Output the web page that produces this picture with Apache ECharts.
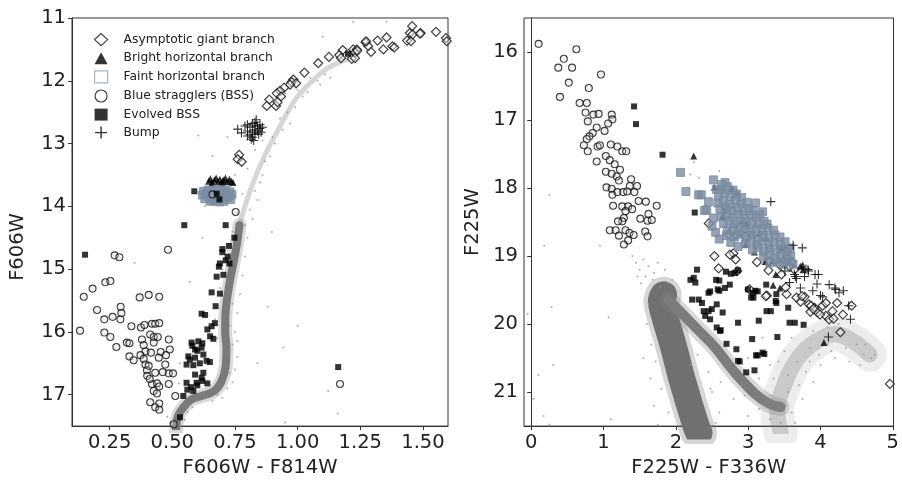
<!DOCTYPE html>
<html>
<head>
<meta charset="utf-8">
<title>CMD</title>
<script src="https://cdn.jsdelivr.net/npm/echarts@6.0.0/dist/echarts.min.js"></script>
<style>
  html, body { margin: 0; padding: 0; background: #fff; }
  #chart { width: 902px; height: 483px; }
</style>
</head>
<body>
<div id="chart"></div>
<script>
// tick labels
const leftXTicks = [0.25, 0.5, 0.75, 1.0, 1.25, 1.5]
const leftYTicks = [11, 12, 13, 14, 15, 16, 17]
const rightXTicks = [0, 1, 2, 3, 4, 5]
const rightYTicks = [16, 17, 18, 19, 20, 21]

const names = ['Asymptotic giant branch', 'Bright horizontal branch', 'Faint horizontal branch',
  'Blue stragglers (BSS)', 'Evolved BSS', 'Bump']

// ---------- left panel: F606W - F814W vs F606W ----------
const agbLeft = [[1.457, 11.13], [1.448, 11.24], [1.491, 11.24], [1.437, 11.36], [1.452, 11.37], [1.552, 11.22],
  [1.592, 11.32], [1.595, 11.37], [1.355, 11.31], [1.319, 11.36], [1.271, 11.39], [1.282, 11.45], [1.293, 11.54],
  [1.342, 11.50], [1.378, 11.45], [1.386, 11.47], [1.180, 11.51], [1.222, 11.50], [1.236, 11.50], [1.229, 11.55],
  [1.238, 11.52], [1.216, 11.65], [1.229, 11.64], [1.166, 11.59], [1.173, 11.64], [1.125, 11.62], [1.082, 11.72],
  [1.027, 11.87], [0.983, 11.98], [0.976, 12.02], [0.994, 12.04], [0.970, 12.06], [0.946, 12.11], [0.930, 12.16],
  [0.917, 12.20], [0.934, 12.25], [0.887, 12.30], [0.877, 12.40], [0.914, 12.40], [0.920, 12.34], [0.767, 13.18],
  [0.761, 13.25], [0.777, 13.29], [1.273, 11.37], [1.459, 11.26], [1.488, 11.25]]
const bhbLeft = [[0.645, 13.60], [0.652, 13.56], [0.660, 13.62], [0.668, 13.58], [0.675, 13.55], [0.683, 13.61],
  [0.690, 13.57], [0.698, 13.63], [0.705, 13.58], [0.712, 13.55], [0.720, 13.61], [0.728, 13.57], [0.736, 13.60],
  [0.742, 13.62], [0.657, 13.64], [0.700, 13.60]]
const fhbLeft = [[0.625, 13.76], [0.643, 13.74], [0.661, 13.75], [0.679, 13.73], [0.697, 13.76], [0.715, 13.74],
  [0.730, 13.77], [0.620, 13.82], [0.638, 13.80], [0.656, 13.83], [0.674, 13.81], [0.692, 13.82], [0.710, 13.80],
  [0.728, 13.83], [0.738, 13.81], [0.630, 13.88], [0.648, 13.86], [0.666, 13.89], [0.684, 13.87], [0.702, 13.88],
  [0.720, 13.86], [0.733, 13.89], [0.652, 13.92], [0.670, 13.91], [0.688, 13.93], [0.706, 13.92]]
const bssLeft = [[0.270, 14.78], [0.289, 14.81], [0.483, 14.69], [0.233, 15.21], [0.253, 15.19], [0.182, 15.31],
  [0.147, 15.44], [0.370, 15.45], [0.406, 15.41], [0.448, 15.44], [0.200, 15.65], [0.229, 15.80], [0.262, 15.76],
  [0.294, 15.60], [0.297, 15.70], [0.293, 15.80], [0.337, 15.91], [0.375, 15.93], [0.389, 15.89], [0.419, 15.87],
  [0.432, 15.87], [0.448, 15.86], [0.132, 15.98], [0.229, 16.01], [0.253, 16.08], [0.277, 16.24], [0.319, 16.17],
  [0.329, 16.18], [0.379, 16.12], [0.386, 16.21], [0.412, 16.04], [0.426, 16.08], [0.442, 16.08], [0.426, 16.17],
  [0.486, 16.12], [0.393, 16.31], [0.329, 16.39], [0.346, 16.45], [0.373, 16.37], [0.386, 16.43], [0.415, 16.33],
  [0.454, 16.32], [0.475, 16.37], [0.446, 16.41], [0.490, 16.28], [0.393, 16.52], [0.399, 16.61], [0.406, 16.54],
  [0.432, 16.65], [0.472, 16.52], [0.462, 16.64], [0.486, 16.66], [0.503, 16.66], [0.419, 16.83], [0.439, 16.82],
  [0.448, 16.87], [0.426, 16.94], [0.439, 16.98], [0.486, 16.83], [0.412, 17.12], [0.448, 17.14], [0.432, 17.20],
  [0.448, 17.24], [0.512, 17.02], [0.506, 17.47], [1.169, 16.83], [0.753, 14.09], [0.661, 13.81], [0.400, 16.70],
  [0.410, 16.75]]
const ebssLeft = [[0.588, 13.76], [0.688, 13.89], [0.677, 13.80], [0.548, 14.30], [0.713, 14.30], [0.748, 14.50],
  [0.726, 14.63], [0.700, 14.68], [0.700, 14.73], [0.721, 14.80], [0.713, 14.86], [0.728, 14.91], [0.690, 14.91],
  [0.686, 14.96], [0.704, 15.09], [0.677, 15.12], [0.657, 15.37], [0.690, 15.39], [0.673, 15.59], [0.617, 15.71],
  [0.631, 15.73], [0.670, 15.86], [0.657, 15.91], [0.640, 15.96], [0.651, 16.07], [0.664, 16.11], [0.577, 16.17],
  [0.604, 16.15], [0.617, 16.25], [0.591, 16.28], [0.624, 16.36], [0.564, 16.39], [0.591, 16.41], [0.637, 16.46],
  [0.557, 16.52], [0.584, 16.53], [0.624, 16.65], [0.591, 16.68], [0.557, 16.81], [0.575, 16.88], [0.597, 16.81],
  [0.617, 16.73], [0.584, 16.94], [0.544, 17.02], [0.531, 17.36], [0.152, 14.77], [1.162, 16.56], [1.201, 11.57],
  [0.600, 16.30], [0.570, 16.44], [0.610, 16.50], [0.650, 16.48], [0.580, 16.22], [0.620, 16.18], [0.600, 16.85],
  [0.620, 16.78], [0.560, 16.92], [0.640, 16.82]]
const bumpLeft = [[0.761, 12.77], [0.776, 12.83], [0.800, 12.70], [0.810, 12.74], [0.820, 12.68], [0.830, 12.66],
  [0.835, 12.62], [0.840, 12.72], [0.850, 12.76], [0.830, 12.78], [0.820, 12.82], [0.810, 12.86], [0.820, 12.90],
  [0.830, 12.85], [0.840, 12.80], [0.850, 12.70], [0.860, 12.74], [0.800, 12.80], [0.815, 12.93], [0.825, 12.95],
  [0.845, 12.85], [0.855, 12.82], [0.790, 12.72], [0.830, 12.72], [0.800, 12.88]]
// dense RGB/SGB ridge and the sparse upper giant branch
const ridgeLeftLow = [[0.515, 17.60], [0.522, 17.35], [0.545, 17.20], [0.575, 17.08], [0.617, 17.02], [0.664, 16.95],
  [0.695, 16.80], [0.713, 16.55], [0.716, 16.25], [0.711, 15.99], [0.712, 15.73], [0.722, 15.38], [0.737, 15.04],
  [0.755, 14.67], [0.768, 14.30]]
const ridgeLeftHigh = [[0.768, 14.30], [0.790, 14.00], [0.815, 13.70], [0.845, 13.40], [0.880, 13.10], [0.920, 12.80],
  [0.960, 12.50], [1.000, 12.25], [1.060, 12.00], [1.120, 11.80], [1.200, 11.65]]
const fieldLeft = [[0.52, 17.30], [0.55, 17.40], [0.49, 17.45], [0.58, 17.20], [0.60, 17.10], [0.63, 17.06],
  [0.68, 17.00], [0.72, 16.90], [0.74, 16.80], [0.75, 16.60], [0.76, 16.40], [0.74, 16.20], [0.75, 16.00],
  [0.68, 16.10], [0.67, 15.80], [0.76, 15.70], [0.77, 15.40], [0.69, 15.30], [0.70, 15.00], [0.78, 15.10],
  [0.79, 14.80], [0.72, 14.70], [0.74, 14.40], [0.80, 14.50], [0.82, 14.20], [0.76, 14.10], [0.78, 13.80],
  [0.84, 13.90], [0.86, 13.50], [0.80, 13.40], [0.83, 13.10], [0.89, 13.20], [0.90, 12.90], [0.86, 12.95],
  [0.93, 12.60], [0.96, 12.50], [0.95, 12.20], [1.00, 12.15], [1.05, 11.95], [1.08, 12.00], [1.11, 11.90],
  [1.02, 12.25], [0.897, 14.41], [0.943, 16.25], [1.122, 16.94], [0.951, 17.44], [1.222, 11.06], [1.355, 11.06],
  [0.604, 12.87], [0.526, 16.82], [1.00, 15.90], [0.88, 15.60], [0.84, 16.50], [0.62, 14.50], [0.57, 15.20],
  [0.45, 16.90], [0.40, 16.30], [1.16, 17.30], [0.66, 13.20], [0.72, 12.90], [0.75, 13.50], [0.63, 14.00],
  [0.53, 16.50], [0.35, 14.90], [1.10, 11.30], [0.81, 14.05], [0.83, 13.75], [0.85, 13.62], [0.87, 13.28],
  [0.91, 13.00], [0.94, 12.78], [0.97, 12.68], [0.99, 12.42], [1.04, 12.18], [1.09, 12.06], [1.13, 11.95],
  [0.79, 14.30], [0.74, 15.55], [0.73, 15.90], [0.76, 16.15], [0.73, 16.65], [0.70, 17.05], [0.66, 17.10],
  [0.56, 17.28], [0.48, 17.35]]

// ---------- right panel: F225W - F336W vs F225W ----------
const agbRight = [[2.456, 18.52], [2.833, 18.69], [2.963, 18.71], [2.533, 19.00], [2.592, 19.18], [2.796, 18.96],
  [2.827, 19.05], [2.850, 19.22], [3.020, 19.49], [3.122, 19.09], [3.258, 19.58], [3.280, 19.21], [3.290, 19.08],
  [3.460, 19.27], [3.576, 19.16], [3.598, 19.08], [3.531, 19.56], [3.520, 19.46], [3.725, 19.67], [3.780, 19.60],
  [3.840, 19.71], [3.861, 19.82], [3.916, 19.76], [3.960, 19.83], [4.030, 19.73], [4.075, 19.69], [4.075, 19.88],
  [4.166, 19.81], [4.230, 19.69], [4.310, 19.86], [4.275, 20.12], [4.430, 19.73], [4.960, 20.88], [4.120, 19.93],
  [3.870, 19.73], [3.640, 19.20], [3.440, 19.13], [4.180, 19.92], [3.667, 19.61], [3.245, 19.59], [3.744, 19.59],
  [3.903, 19.78], [3.994, 19.86], [2.747, 18.98], [2.732, 18.68]]
const bhbRight = [[2.247, 17.53], [2.533, 17.99], [2.778, 18.01], [2.846, 18.07], [2.664, 18.32], [2.646, 18.42],
  [2.918, 18.48], [2.973, 18.52], [3.154, 18.66], [3.245, 18.73], [2.964, 18.83], [3.449, 18.88], [3.503, 18.86],
  [3.236, 19.08], [3.336, 19.07], [3.417, 19.04], [3.721, 19.15], [3.087, 18.94], [3.509, 19.05], [3.753, 19.13],
  [3.758, 19.20], [3.381, 19.27], [3.345, 19.43], [3.440, 19.47], [4.048, 20.27], [3.495, 19.02]]
const fhbRight = [[2.63, 18.02], [2.71, 17.98], [2.79, 18.03], [2.59, 18.12], [2.67, 18.08], [2.75, 18.13],
  [2.84, 18.09], [2.91, 18.14], [2.58, 18.22], [2.66, 18.19], [2.74, 18.24], [2.82, 18.18], [2.90, 18.23],
  [2.98, 18.21], [2.61, 18.31], [2.69, 18.28], [2.77, 18.33], [2.85, 18.29], [2.93, 18.34], [3.01, 18.30],
  [3.07, 18.33], [2.63, 18.42], [2.71, 18.38], [2.79, 18.43], [2.87, 18.39], [2.95, 18.44], [3.03, 18.40],
  [3.11, 18.43], [3.16, 18.39], [2.66, 18.52], [2.74, 18.48], [2.82, 18.53], [2.90, 18.49], [2.98, 18.54],
  [3.06, 18.50], [3.14, 18.53], [3.22, 18.49], [3.26, 18.53], [2.71, 18.62], [2.79, 18.58], [2.87, 18.63],
  [2.95, 18.59], [3.03, 18.64], [3.11, 18.60], [3.19, 18.63], [3.27, 18.59], [3.35, 18.62], [2.81, 18.72],
  [2.89, 18.68], [2.97, 18.73], [3.05, 18.69], [3.13, 18.74], [3.21, 18.70], [3.29, 18.73], [3.37, 18.69],
  [3.44, 18.72], [2.96, 18.82], [3.04, 18.78], [3.12, 18.83], [3.20, 18.79], [3.28, 18.84], [3.36, 18.80],
  [3.44, 18.83], [3.51, 18.79], [3.06, 18.91], [3.14, 18.88], [3.22, 18.93], [3.30, 18.89], [3.38, 18.94],
  [3.46, 18.90], [3.54, 18.93], [3.58, 18.88], [3.21, 19.01], [3.29, 18.98], [3.37, 19.03], [3.45, 18.99],
  [3.53, 19.04], [3.59, 19.00], [3.41, 19.09], [3.49, 19.12], [3.55, 19.08], [2.065, 17.77], [2.139, 18.05],
  [2.52, 17.88], [2.637, 17.95], [2.397, 18.33], [2.351, 18.10], [2.50, 18.56], [2.315, 18.10], [2.428, 18.32],
  [2.519, 18.44], [2.45, 18.20], [2.55, 18.65], [2.60, 18.75], [3.62, 19.12], [3.30, 19.10], [2.70, 18.70],
  [2.76, 18.80], [2.86, 18.86], [2.68, 17.92], [2.56, 18.02], [3.10, 18.22], [3.20, 18.35]]
const bssRight = [[0.102, 15.88], [0.624, 15.96], [0.451, 16.10], [0.374, 16.23], [0.565, 16.23], [0.964, 16.33],
  [0.519, 16.45], [0.796, 16.53], [0.397, 16.66], [0.669, 16.75], [0.769, 16.75], [0.751, 16.89], [0.859, 16.92],
  [0.932, 16.91], [1.113, 16.92], [1.122, 16.99], [0.782, 17.02], [1.064, 17.05], [0.905, 17.11], [0.850, 17.19],
  [1.014, 17.16], [0.805, 17.24], [0.769, 17.28], [0.728, 17.37], [0.918, 17.39], [0.950, 17.37], [0.782, 17.46],
  [1.100, 17.36], [1.191, 17.39], [1.259, 17.46], [1.313, 17.46], [0.905, 17.61], [1.032, 17.53], [1.086, 17.59],
  [1.154, 17.65], [1.227, 17.73], [1.032, 17.76], [1.113, 17.79], [1.182, 17.83], [1.213, 17.89], [1.381, 17.87],
  [1.463, 17.97], [1.363, 17.97], [1.041, 17.99], [1.113, 18.01], [1.122, 18.10], [1.191, 18.06], [1.272, 18.06],
  [1.327, 18.05], [1.426, 18.06], [1.485, 18.19], [1.585, 18.20], [1.735, 18.26], [1.132, 18.26], [1.259, 18.27],
  [1.340, 18.27], [1.395, 18.31], [1.304, 18.34], [1.621, 18.38], [1.281, 18.44], [1.259, 18.49], [1.200, 18.49],
  [1.508, 18.45], [1.608, 18.48], [1.667, 18.47], [1.086, 18.62], [1.168, 18.62], [1.213, 18.70], [1.304, 18.62],
  [1.358, 18.66], [1.417, 18.69], [1.340, 18.77], [1.281, 18.83], [1.576, 18.64], [1.608, 18.71]]
const ebssRight = [[1.422, 16.80], [1.449, 17.06], [1.816, 17.51], [2.261, 18.36], [2.202, 19.35], [2.248, 19.32],
  [2.293, 19.20], [2.270, 19.39], [2.225, 19.64], [2.316, 19.64], [2.361, 19.69], [2.452, 19.81], [2.406, 19.88],
  [2.474, 19.93], [2.565, 20.05], [2.610, 20.10], [2.701, 20.29], [2.837, 20.37], [2.860, 20.54], [2.973, 20.71],
  [3.087, 20.68], [3.132, 20.46], [3.200, 20.42], [3.223, 20.44], [3.404, 20.19], [3.572, 19.98], [3.645, 19.98],
  [3.767, 20.01], [2.860, 19.98], [3.146, 19.95], [3.254, 19.81], [3.313, 19.81], [3.381, 19.66], [3.554, 19.76],
  [2.579, 19.49], [2.678, 19.47], [2.746, 19.42], [2.815, 19.25], [2.996, 19.49], [3.073, 19.61], [3.064, 19.54],
  [2.860, 19.21], [2.556, 19.35], [2.474, 19.52], [2.601, 19.36], [2.692, 19.23], [2.760, 19.26], [2.601, 19.51],
  [2.452, 19.54], [2.565, 19.71], [2.497, 19.78], [2.384, 19.81], [2.647, 19.83], [2.620, 20.09], [3.132, 19.52],
  [3.041, 19.61], [3.390, 19.56], [3.055, 20.22], [3.109, 20.46], [2.883, 20.55], [3.250, 19.42], [3.390, 19.69],
  [3.100, 19.51]]
const bumpRight = [[3.313, 18.20], [3.622, 18.84], [3.748, 18.88], [3.826, 19.20], [3.925, 19.27], [3.952, 19.41],
  [3.894, 19.51], [4.120, 19.42], [4.210, 19.49], [4.316, 19.51], [4.390, 19.73], [4.415, 19.93], [4.110, 20.19],
  [3.667, 19.33], [3.640, 19.27], [3.780, 19.30], [4.000, 19.58], [4.030, 19.60], [4.256, 19.54], [3.508, 19.22],
  [3.835, 19.22], [3.971, 19.27], [4.198, 19.47], [3.799, 19.19], [3.722, 19.47], [3.653, 19.30], [3.572, 19.39]]
// main sequence, subgiant branch, red giant branch ridges
const msRight = [[2.32, 21.60], [2.28, 21.50], [2.09, 20.83], [1.97, 20.34], [1.84, 19.86], [1.80, 19.66],
  [1.83, 19.57]]
const sgbRight = [[1.90, 19.64], [2.10, 19.86], [2.32, 20.10], [2.54, 20.34], [2.79, 20.68], [3.09, 21.02],
  [3.29, 21.17], [3.45, 21.22]]
const rgbRight = [[3.45, 21.60], [3.40, 21.25], [3.48, 20.95], [3.60, 20.65], [3.75, 20.42], [3.95, 20.25],
  [4.20, 20.15], [4.45, 20.25], [4.68, 20.45]]
const fieldRight = [[0.25, 18.10], [0.18, 18.85], [0.95, 18.85], [-0.05, 19.85], [0.28, 19.75], [0.30, 20.60],
  [0.10, 20.75], [0.17, 21.35], [0.03, 21.10], [1.07, 19.90], [1.10, 21.40], [0.25, 21.48], [2.20, 17.80],
  [2.25, 17.62], [2.60, 17.75], [2.32, 17.85], [1.40, 19.00], [1.45, 19.10], [1.50, 19.20], [1.55, 19.05],
  [1.62, 19.15], [1.70, 19.25], [1.75, 19.10], [1.68, 19.35], [1.58, 19.30], [1.85, 19.20], [1.90, 19.40],
  [1.78, 19.45], [1.52, 19.40], [1.47, 19.30], [1.95, 19.35], [1.60, 20.00], [1.55, 20.50], [1.65, 20.80],
  [1.70, 21.20], [1.75, 21.48], [2.50, 21.00], [2.60, 21.30], [2.45, 20.70], [2.20, 20.60], [3.30, 20.60],
  [3.50, 20.40], [3.60, 20.20], [3.75, 20.05], [3.90, 20.10], [4.10, 20.05], [4.30, 20.15], [4.50, 20.30],
  [4.60, 20.45], [4.70, 20.50], [4.75, 20.45], [4.55, 20.60], [4.40, 20.55], [4.20, 20.50], [4.00, 20.60],
  [3.80, 20.70], [3.70, 20.90], [3.55, 21.00], [3.60, 21.30], [3.75, 21.10], [3.45, 21.45], [3.65, 21.45],
  [3.90, 20.85], [4.10, 20.30], [3.20, 20.20], [3.00, 20.50], [3.15, 20.80], [2.90, 20.90], [2.80, 21.10],
  [3.00, 21.35], [3.30, 21.40], [3.35, 20.80], [3.42, 20.55], [3.55, 20.75], [3.68, 20.55], [3.85, 20.35],
  [3.98, 20.45], [4.15, 20.40], [4.35, 20.35], [4.62, 20.30], [4.25, 20.00], [3.85, 20.55], [3.52, 21.20],
  [3.30, 21.05], [3.15, 21.25], [2.95, 21.05], [1.62, 19.70], [1.66, 20.30], [1.72, 20.55], [1.80, 20.95],
  [1.90, 21.30], [2.55, 21.45], [2.48, 20.95], [2.30, 20.45], [2.62, 20.85]]

const font = 'DejaVu Sans'
const plusPath = 'path://M0,4.4H10V5.6H0ZM4.4,0H5.6V10H4.4Z'

// marker look per group (index matches names)
const looks = [
  { symbol: 'diamond', size: 9, itemStyle: { color: 'rgba(240,240,240,0.6)', borderColor: '#111', borderWidth: 1.2 } },
  { symbol: 'triangle', size: 7, itemStyle: { color: '#000' } },
  { symbol: 'rect', size: 8, itemStyle: { color: '#7b8ca1', borderColor: '#7a8ca3', borderWidth: 1 } },
  { symbol: 'circle', size: 7, itemStyle: { color: 'rgba(200,200,200,0.35)', borderColor: '#111', borderWidth: 1.1 } },
  { symbol: 'rect', size: 6, itemStyle: { color: '#000' } },
  { symbol: plusPath, size: 9, itemStyle: { color: '#000' } }
]

function scatter (i, data, grid) {
  return {
    type: 'scatter',
    name: names[i],
    xAxisIndex: grid,
    yAxisIndex: grid,
    symbol: looks[i].symbol,
    symbolSize: looks[i].size,
    itemStyle: looks[i].itemStyle,
    data: data,
    silent: true,
    z: 3 + i
  }
}

function ridge (data, grid, width, color) {
  return {
    type: 'line',
    xAxisIndex: grid,
    yAxisIndex: grid,
    data: data,
    symbol: 'none',
    smooth: 0.4,
    silent: true,
    lineStyle: { width: width, color: color, cap: 'round', join: 'round' },
    z: 1
  }
}

function field (data, grid) {
  return {
    type: 'scatter',
    xAxisIndex: grid,
    yAxisIndex: grid,
    data: data,
    symbolSize: 2,
    itemStyle: { color: '#999' },
    silent: true,
    z: 2
  }
}

function xAxis (grid, min, max, ticks, name, digits) {
  return {
    type: 'value',
    gridIndex: grid,
    min: min,
    max: max,
    name: name,
    nameLocation: 'middle',
    nameGap: 27,
    nameTextStyle: { fontFamily: font, fontSize: 19.5, color: '#222' },
    axisLine: { show: true, lineStyle: { color: '#333' } },
    axisTick: { show: true, length: 4, customValues: ticks, lineStyle: { color: '#333' } },
    axisLabel: {
      customValues: ticks,
      margin: 7,
      fontFamily: font,
      fontSize: 19.5,
      color: '#222',
      alignMinLabel: 'center',
      alignMaxLabel: 'center',
      formatter: v => v.toFixed(digits)
    },
    splitLine: { show: false }
  }
}

function yAxis (grid, min, max, ticks, name, gap) {
  return {
    type: 'value',
    gridIndex: grid,
    inverse: true,
    min: min,
    max: max,
    name: name,
    nameLocation: 'middle',
    nameGap: gap,
    nameTextStyle: { fontFamily: font, fontSize: 19.5, color: '#222' },
    axisLine: { show: true, lineStyle: { color: '#333' } },
    axisTick: { show: true, length: 4, customValues: ticks, lineStyle: { color: '#333' } },
    axisLabel: { customValues: ticks, margin: 6, fontFamily: font, fontSize: 19.5, color: '#222' },
    splitLine: { show: false }
  }
}

const legendIcons = ['diamond', 'triangle', 'rect', 'circle', 'rect', plusPath]
const legendStyles = [
  { color: '#fff', borderColor: '#111', borderWidth: 1.2 },
  { color: '#000' },
  { color: '#fff', borderColor: '#8fa2b8', borderWidth: 1.2 },
  { color: '#fff', borderColor: '#111', borderWidth: 1.2 },
  { color: '#000' },
  { color: '#000' }
]

const chart = echarts.init(document.getElementById('chart'), null, { renderer: 'canvas' })
const option = {
  animation: false,
  backgroundColor: '#fff',
  grid: [
    { left: 72, top: 18, width: 376, height: 410, show: true, borderColor: '#333', borderWidth: 1 },
    { left: 524, top: 18, width: 376, height: 411, show: true, borderColor: '#333', borderWidth: 1 }
  ],
  xAxis: [
    xAxis(0, 0.1, 1.6, leftXTicks, 'F606W - F814W', 2),
    xAxis(1, -0.1, 5.01, rightXTicks, 'F225W - F336W', 0)
  ],
  yAxis: [
    yAxis(0, 11, 17.5, leftYTicks, '', 44),
    yAxis(1, 15.5, 21.5, rightYTicks, 'F225W', 41)
  ],
  // left y title sits lower than the axis centre in the original
  graphic: [{
    type: 'text',
    x: 18,
    y: 247,
    rotation: Math.PI / 2,
    silent: true,
    style: { text: 'F606W', fontFamily: font, fontSize: 19.5, fill: '#222', align: 'center', verticalAlign: 'middle' }
  }],
  legend: {
    orient: 'vertical',
    left: 89,
    top: 28,
    itemWidth: 13,
    itemHeight: 12,
    itemGap: 6,
    selectedMode: false,
    textStyle: { fontFamily: font, fontSize: 12.3, lineHeight: 12, color: '#222', padding: [0, 0, 0, 11] },
    data: names.map((n, i) => ({ name: n, icon: legendIcons[i], itemStyle: legendStyles[i] }))
  },
  series: [
    ridge(ridgeLeftLow, 0, 14, 'rgba(128,128,128,0.3)'),
    ridge(ridgeLeftLow, 0, 8, '#7a7a7a'),
    ridge(ridgeLeftHigh, 0, 5, 'rgba(128,128,128,0.32)'),
    field(fieldLeft, 0),
    scatter(2, fhbLeft, 0),
    scatter(0, agbLeft, 0),
    scatter(1, bhbLeft, 0),
    scatter(3, bssLeft, 0),
    scatter(4, ebssLeft, 0),
    scatter(5, bumpLeft, 0),

    ridge(msRight, 1, 36, 'rgba(120,120,120,0.3)'),
    ridge(msRight, 1, 27, '#707070'),
    ridge(sgbRight, 1, 18, 'rgba(128,128,128,0.3)'),
    ridge(sgbRight, 1, 10, '#7c7c7c'),
    ridge(rgbRight, 1, 34, 'rgba(140,140,140,0.16)'),
    ridge(rgbRight, 1, 16, 'rgba(128,128,128,0.32)'),
    field(fieldRight, 1),
    scatter(2, fhbRight, 1),
    scatter(0, agbRight, 1),
    scatter(1, bhbRight, 1),
    scatter(3, bssRight, 1),
    scatter(4, ebssRight, 1),
    scatter(5, bumpRight, 1)
  ]
}

option && chart.setOption(option)
</script>
</body>
</html>
